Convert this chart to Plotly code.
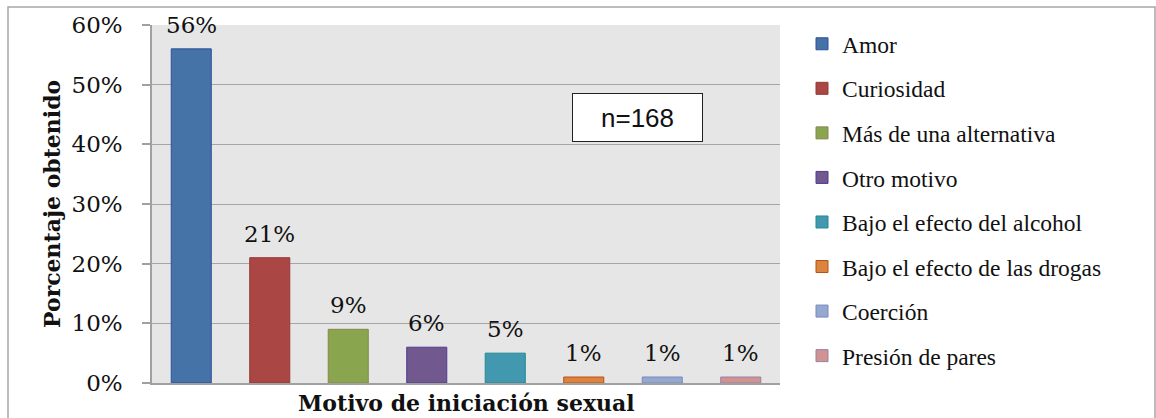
import plotly.graph_objects as go

categories = ["Amor", "Curiosidad", "Más de una alternativa", "Otro motivo",
              "Bajo el efecto del alcohol", "Bajo el efecto de las drogas",
              "Coerción", "Presión de pares"]
values = [0.56, 0.21, 0.09, 0.06, 0.05, 0.01, 0.01, 0.01]
fill_colors = ["#4572A7", "#AA4643", "#89A54E", "#71588F",
               "#4198AF", "#DB843D", "#93A9CF", "#D19392"]
line_colors = ["#2F4F9A", "#953A36", "#8A8550", "#4A3F8F",
               "#1F8A95", "#B8501A", "#7A88C0", "#9A7FA8"]
y_ticks = [0, 0.1, 0.2, 0.3, 0.4, 0.5, 0.6]
y_tick_labels = ["0%", "10%", "20%", "30%", "40%", "50%", "60%"]
n_label = "n=168"

W, H = 1156, 418
L, R, T, B = 152, 780, 25, 383
pw, ph = R - L, B - T

def px_x(v):
    return (v - L) / pw

def px_y(v):
    return (B - v) / ph

fig = go.Figure()
for i, (c, v) in enumerate(zip(categories, values)):
    fig.add_trace(go.Bar(
        x=[c], y=[v], name=c,
        marker=dict(color=fill_colors[i], line=dict(color=line_colors[i], width=1)),
        width=0.51, legendgroup=f"g{i}",
        hoverinfo="x+y",
    ))

annotations = []
for c, v in zip(categories, values):
    annotations.append(dict(
        x=c, y=v, xref="x", yref="y", text=f"{round(v*100)}%",
        showarrow=False, yanchor="bottom", yshift=9,
        font=dict(family="DejaVu Serif", size=23, color="#111111"),
    ))

annotations.append(dict(
    x=px_x(637.5), y=px_y(117.5), xref="paper", yref="paper",
    text=n_label, showarrow=False, xanchor="center", yanchor="middle",
    font=dict(family="Liberation Sans", size=26, color="#111111"),
    bgcolor="white", bordercolor="#222222", borderwidth=1,
    width=127, height=45, borderpad=1,
))

annotations.append(dict(
    x=0, y=px_y(204), xref="paper", yref="paper", xshift=-100,
    text="<b>Porcentaje obtenido</b>", showarrow=False, textangle=-90,
    xanchor="center", yanchor="middle",
    font=dict(family="DejaVu Serif", size=22, color="#111111"),
))
annotations.append(dict(
    x=px_x(466), y=px_y(403), xref="paper", yref="paper",
    text="<b>Motivo de iniciación sexual</b>", showarrow=False,
    xanchor="center", yanchor="middle",
    font=dict(family="DejaVu Serif", size=22, color="#111111"),
))

fig.update_layout(
    width=W, height=H,
    margin=dict(l=L, r=W - R, t=T, b=H - B, pad=0),
    paper_bgcolor="white", plot_bgcolor="#E6E6E6",
    barmode="relative",
    showlegend=True,
    legend=dict(
        xref="container", yref="container",
        x=802 / W, y=1 - 22 / H, xanchor="left", yanchor="top",
        font=dict(family="Liberation Serif", size=23.5, color="#111111"),
        tracegroupgap=11, bgcolor="rgba(0,0,0,0)",
        maxheight=1,
    ),
    annotations=annotations,
    shapes=[dict(
        type="rect", xref="paper", yref="paper",
        x0=px_x(8), x1=px_x(1155), y0=px_y(440), y1=px_y(7),
        line=dict(color="#A6A6A6", width=1.5), layer="below",
    )],
)

fig.update_xaxes(
    type="category", showticklabels=False, ticks="",
    showline=True, linecolor="#A0A0A0", linewidth=1.5,
    showgrid=False, range=[-0.5, 7.5],
)
fig.update_yaxes(
    range=[0, 0.6], tickvals=y_ticks, ticktext=y_tick_labels,
    ticks="outside", ticklen=8, tickcolor="#A0A0A0", tickwidth=1.5,
    showline=True, linecolor="#A0A0A0", linewidth=1.5,
    showgrid=True, gridcolor="#A6A6A6", gridwidth=1,
    tickfont=dict(family="DejaVu Serif", size=23, color="#111111"),
    ticklabelstandoff=15, zeroline=False,
)

fig.write_html("out.html", config={"displayModeBar": False},
               post_script="document.body.style.margin='0';")
